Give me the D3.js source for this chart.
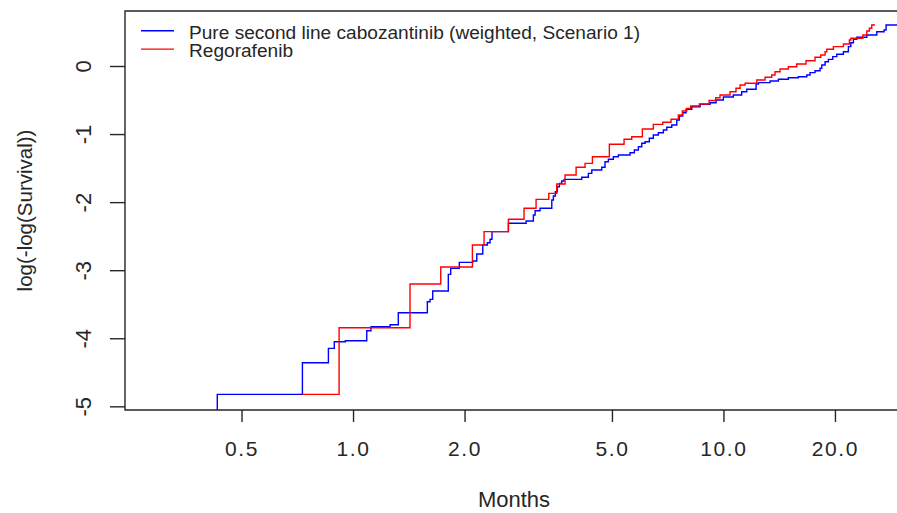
<!DOCTYPE html>
<html>
<head>
<meta charset="utf-8">
<script src="https://cdn.jsdelivr.net/npm/d3@7"></script>
<style>
  html, body { margin: 0; padding: 0; background: #ffffff; }
  svg { display: block; font-family: "Liberation Sans", Arial, sans-serif; }
</style>
</head>
<body>
<svg id="chart" width="897" height="513"></svg>
<script>
// Complementary log-log survival curves, months on a log axis.
const seriesNames = ["Pure second line cabozantinib (weighted, Scenario 1)", "Regorafenib"];
const seriesColors = ["#0000ff", "#ff0000"];

// Cabozantinib: event times (months) and log(-log(S)) after each step
const cabozantinibMonths = [0.430, 0.430, 0.730, 0.858, 0.890, 0.953, 1.089, 1.118, 1.259, 1.325,
  1.587, 1.614, 1.641, 1.808, 1.835, 1.936, 2.105, 2.158, 2.240, 2.305,
  2.344, 2.372, 2.627, 2.932, 3.068, 3.101, 3.198, 3.440, 3.474, 3.517,
  3.561, 3.606, 3.660, 3.713, 4.144, 4.318, 4.411, 4.692, 4.789, 4.890,
  5.044, 5.203, 5.596, 5.747, 5.893, 6.018, 6.143, 6.308, 6.467, 6.672,
  6.883, 7.030, 7.252, 7.481, 7.603, 7.766, 7.926, 8.212, 8.648, 9.201,
  9.550, 9.993, 10.63, 11.20, 11.56, 12.25, 12.43, 13.36, 14.07, 14.97,
  15.93, 16.79, 17.13, 17.67, 18.23, 18.43, 18.81, 19.20, 19.73, 20.23,
  21.08, 21.74, 22.07, 22.43, 22.91, 24.38, 25.94, 27.14, 27.48, 31.0];
const cabozantinibLogLog = [-5.40, -4.824, -4.359, -4.148, -4.051, -4.036, -3.889, -3.830, -3.801, -3.625,
  -3.463, -3.428, -3.306, -3.061, -2.973, -2.885, -2.865, -2.762, -2.630, -2.596,
  -2.546, -2.434, -2.311, -2.277, -2.189, -2.126, -2.091, -1.969, -1.910, -1.847,
  -1.773, -1.724, -1.690, -1.665, -1.635, -1.577, -1.528, -1.488, -1.406, -1.371,
  -1.333, -1.308, -1.274, -1.234, -1.186, -1.136, -1.112, -1.062, -1.014, -0.980,
  -0.940, -0.901, -0.867, -0.793, -0.735, -0.686, -0.636, -0.598, -0.563, -0.539,
  -0.500, -0.455, -0.426, -0.378, -0.342, -0.264, -0.245, -0.220, -0.195, -0.172,
  -0.157, -0.132, -0.098, -0.069, -0.034, 0.015, 0.063, 0.098, 0.137, 0.172,
  0.210, 0.284, 0.342, 0.392, 0.422, 0.455, 0.504, 0.529, 0.602, 0.602];

// Regorafenib: event times (months) and log(-log(S)) after each step
const regorafenibMonths = [0.730, 0.917, 1.425, 1.725, 2.100, 2.258, 2.627, 2.895, 3.120, 3.376,
  3.548, 3.736, 4.001, 4.231, 4.428, 4.920, 5.391, 5.655, 6.040, 6.467,
  6.858, 7.220, 7.555, 7.745, 7.960, 8.160, 8.610, 9.145, 9.532, 9.790,
  10.42, 10.81, 11.09, 11.44, 12.30, 12.95, 13.50, 13.78, 14.22, 14.97,
  15.77, 16.71, 17.67, 18.31, 18.81, 19.01, 19.81, 21.08, 21.88, 22.07,
  23.78, 24.38, 24.77, 25.14, 25.50];
const regorafenibLogLog = [-4.824, -3.845, -3.203, -2.953, -2.630, -2.434, -2.252, -2.091, -1.959, -1.871,
  -1.734, -1.602, -1.488, -1.430, -1.333, -1.150, -1.077, -1.039, -0.926, -0.857,
  -0.827, -0.783, -0.720, -0.661, -0.622, -0.588, -0.558, -0.507, -0.466, -0.426,
  -0.378, -0.328, -0.279, -0.254, -0.206, -0.166, -0.132, -0.084, -0.044, -0.010,
  0.029, 0.078, 0.128, 0.162, 0.210, 0.245, 0.284, 0.323, 0.382, 0.407,
  0.455, 0.514, 0.554, 0.602, 0.617];

const xTickValues = [0.5, 1, 2, 5, 10, 20];
const xTickLabels = ["0.5", "1.0", "2.0", "5.0", "10.0", "20.0"];
const yTickValues = [0, -1, -2, -3, -4, -5];
const yTickLabels = ["0", "-1", "-2", "-3", "-4", "-5"];
const xTitle = "Months";
const yTitle = "log(-log(Survival))";

const plot = { left: 125, right: 903, top: 11, bottom: 410 };
const ink = "#262626";

const svg = d3.select("#chart");

const x = d3.scaleLog().domain([0.2423, 30.53]).range([plot.left, plot.right]);
const y = d3.scaleLinear().domain([-5.054, 0.808]).range([plot.bottom, plot.top]);

svg.append("defs").append("clipPath").attr("id", "plot-clip")
  .append("rect")
  .attr("x", plot.left).attr("y", plot.top)
  .attr("width", plot.right - plot.left).attr("height", plot.bottom - plot.top);

// step curves
const line = d3.line()
  .x(d => x(d[0]))
  .y(d => y(d[1]))
  .curve(d3.curveStepAfter);

const curves = [
  d3.zip(cabozantinibMonths, cabozantinibLogLog),
  d3.zip(regorafenibMonths, regorafenibLogLog)
];

svg.append("g").attr("clip-path", "url(#plot-clip)")
  .selectAll("path")
  .data(curves)
  .join("path")
  .attr("d", line)
  .attr("fill", "none")
  .attr("stroke", (d, i) => seriesColors[i])
  .attr("stroke-width", 1.4);

// frame (left, top, bottom)
svg.append("path")
  .attr("d", `M${plot.right},${plot.top}H${plot.left}V${plot.bottom}H${plot.right}`)
  .attr("fill", "none")
  .attr("stroke", ink)
  .attr("stroke-width", 1.4);

// x axis
const xAxis = svg.append("g")
  .attr("transform", `translate(0,${plot.bottom})`)
  .call(d3.axisBottom(x)
    .tickValues(xTickValues)
    .tickFormat((d, i) => xTickLabels[i])
    .tickSize(12)
    .tickSizeOuter(0));
xAxis.select(".domain").remove();
xAxis.selectAll(".tick line").attr("stroke", ink).attr("stroke-width", 1.4);
xAxis.selectAll(".tick text")
  .attr("y", 45.5).attr("dy", 0)
  .attr("fill", ink)
  .style("font-size", "21px")
  .style("letter-spacing", "1.6px")
  .style("font-family", "'Liberation Sans', Arial, sans-serif");

// y axis
const yAxis = svg.append("g")
  .attr("transform", `translate(${plot.left},0)`)
  .call(d3.axisLeft(y)
    .tickValues(yTickValues)
    .tickFormat((d, i) => yTickLabels[i])
    .tickSize(15)
    .tickSizeOuter(0));
yAxis.select(".domain").remove();
yAxis.selectAll(".tick line").attr("stroke", ink).attr("stroke-width", 1.4);
yAxis.selectAll(".tick text")
  .attr("transform", "rotate(-90)")
  .attr("x", 0).attr("y", -34).attr("dy", 0)
  .attr("text-anchor", "middle")
  .attr("fill", ink)
  .style("font-size", "22px")
  .style("font-family", "'Liberation Sans', Arial, sans-serif");

// axis titles
svg.append("text")
  .attr("x", 514).attr("y", 506.5)
  .attr("text-anchor", "middle")
  .attr("fill", ink)
  .style("font-size", "22px")
  .text(xTitle);

svg.append("text")
  .attr("transform", `translate(32,${(plot.top + plot.bottom) / 2}) rotate(-90)`)
  .attr("text-anchor", "middle")
  .attr("fill", ink)
  .style("font-size", "20.5px")
  .text(yTitle);

// legend
const legend = svg.append("g");
const legendRows = legend.selectAll("g")
  .data(seriesNames)
  .join("g")
  .attr("transform", (d, i) => `translate(0,${i * 18.4})`);
legendRows.append("line")
  .attr("x1", 141).attr("x2", 174)
  .attr("y1", 30.7).attr("y2", 30.7)
  .attr("stroke", (d, i) => seriesColors[i])
  .attr("stroke-width", 1.4);
legendRows.append("text")
  .attr("x", 189).attr("y", 38.6)
  .attr("fill", ink)
  .style("font-size", "19.1px")
  .text(d => d);
</script>
</body>
</html>
